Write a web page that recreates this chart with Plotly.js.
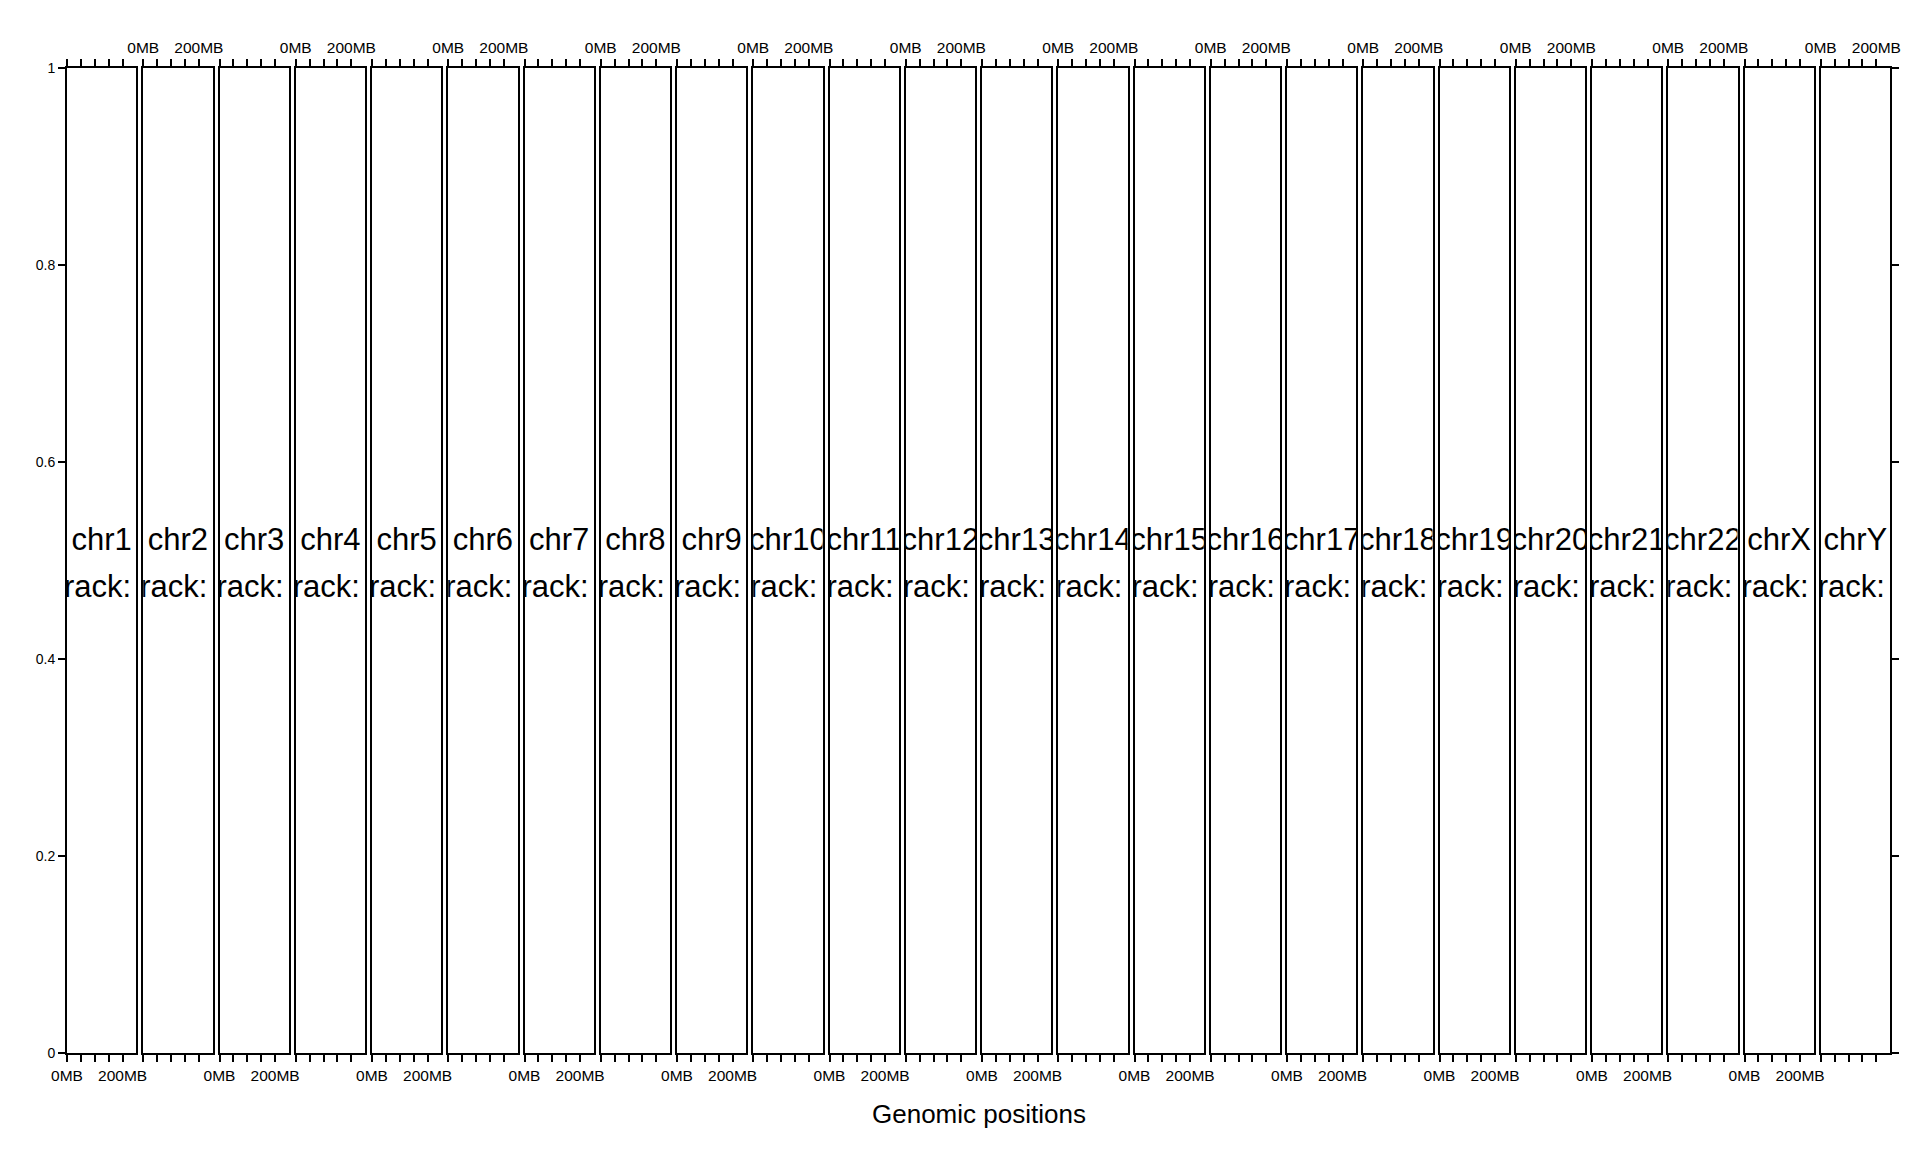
<!DOCTYPE html>
<html>
<head>
<meta charset="utf-8">
<script src="https://cdn.plot.ly/plotly-3.0.1.min.js"></script>
<style>
  html, body { margin: 0; padding: 0; background: #ffffff; }
  #chart { width: 1920px; height: 1152px; }
</style>
</head>
<body>
<div id="chart"></div>
<script>
// ---- data ----
const chromosomes = ['chr1','chr2','chr3','chr4','chr5','chr6','chr7','chr8','chr9','chr10',
  'chr11','chr12','chr13','chr14','chr15','chr16','chr17','chr18','chr19','chr20',
  'chr21','chr22','chrX','chrY'];
const trackLabel = 'Track: 1';
const xRangeMB = [0, 248.956];
const xTickVals = [0, 50, 100, 150, 200];
const xTickText = ['0MB', '', '', '', '200MB'];
const yTickVals = [0, 0.2, 0.4, 0.6, 0.8, 1];
const yTickText = ['0', '0.2', '0.4', '0.6', '0.8', '1'];
const axisTitle = 'Genomic positions';

// ---- layout geometry ----
const W = 1920, H = 1152;
const margin = {l: 67, r: 30, t: 68, b: 99};
const plotW = W - margin.l - margin.r;
const pitch = 76.25, panelW = 69.25;
const FONT = 'Arial, "Liberation Sans", Helvetica, sans-serif';
const LW = 2;

const traces = [];
const layout = {
  width: W, height: H,
  margin: margin,
  paper_bgcolor: '#ffffff',
  plot_bgcolor: '#ffffff',
  showlegend: false,
  font: {family: FONT, color: '#000000'},
  annotations: [{
    text: axisTitle, xref: 'paper', yref: 'paper', x: 0.5, y: 0,
    xanchor: 'center', yanchor: 'middle', yshift: -61, showarrow: false,
    font: {family: FONT, size: 26, color: '#000000'}
  }]
};

const xMid = (xRangeMB[0] + xRangeMB[1]) / 2;
const n = chromosomes.length;

chromosomes.forEach((chr, i) => {
  const k = i + 1;
  const xa = k === 1 ? 'x' : 'x' + k;
  const ya = k === 1 ? 'y' : 'y' + k;
  traces.push({
    type: 'scatter', mode: 'text',
    x: [xMid, xMid], y: [0.5185, 0.471],
    text: [chr, trackLabel],
    textposition: 'middle center',
    textfont: {family: FONT, size: 31, color: '#000000'},
    cliponaxis: true, hoverinfo: 'skip',
    xaxis: xa, yaxis: ya
  });
  const left = i * pitch / plotW;
  const right = (i * pitch + panelW) / plotW;
  layout['xaxis' + (k === 1 ? '' : k)] = {
    domain: [left, Math.min(1, right)],
    range: xRangeMB,
    anchor: ya,
    side: (k % 2 === 0) ? 'top' : 'bottom',
    tickmode: 'array', tickvals: xTickVals, ticktext: xTickText,
    ticks: 'outside', ticklen: 7, tickwidth: LW, tickcolor: '#000000',
    showline: true, linecolor: '#000000', linewidth: LW, mirror: 'ticks',
    showgrid: false, zeroline: false, fixedrange: true,
    tickfont: {family: FONT, size: 15.5, color: '#000000'}
  };
  const yax = {
    domain: [0, 1], range: [0, 1], anchor: xa,
    showline: true, linecolor: '#000000', linewidth: LW, mirror: true,
    showgrid: false, zeroline: false, fixedrange: true,
    tickmode: 'array', tickvals: yTickVals, ticktext: yTickText,
    ticks: '', showticklabels: false,
    tickfont: {family: FONT, size: 14, color: '#000000'}
  };
  if (k === 1) {
    yax.ticks = 'outside'; yax.ticklen = 7; yax.tickwidth = LW; yax.tickcolor = '#000000';
    yax.showticklabels = true; yax.side = 'left';
  } else if (k === n) {
    yax.ticks = 'outside'; yax.ticklen = 7; yax.tickwidth = LW; yax.tickcolor = '#000000';
    yax.showticklabels = false; yax.side = 'right';
  }
  layout['yaxis' + (k === 1 ? '' : k)] = yax;
});

Plotly.newPlot('chart', traces, layout, {displayModeBar: false, staticPlot: true});
</script>
</body>
</html>
